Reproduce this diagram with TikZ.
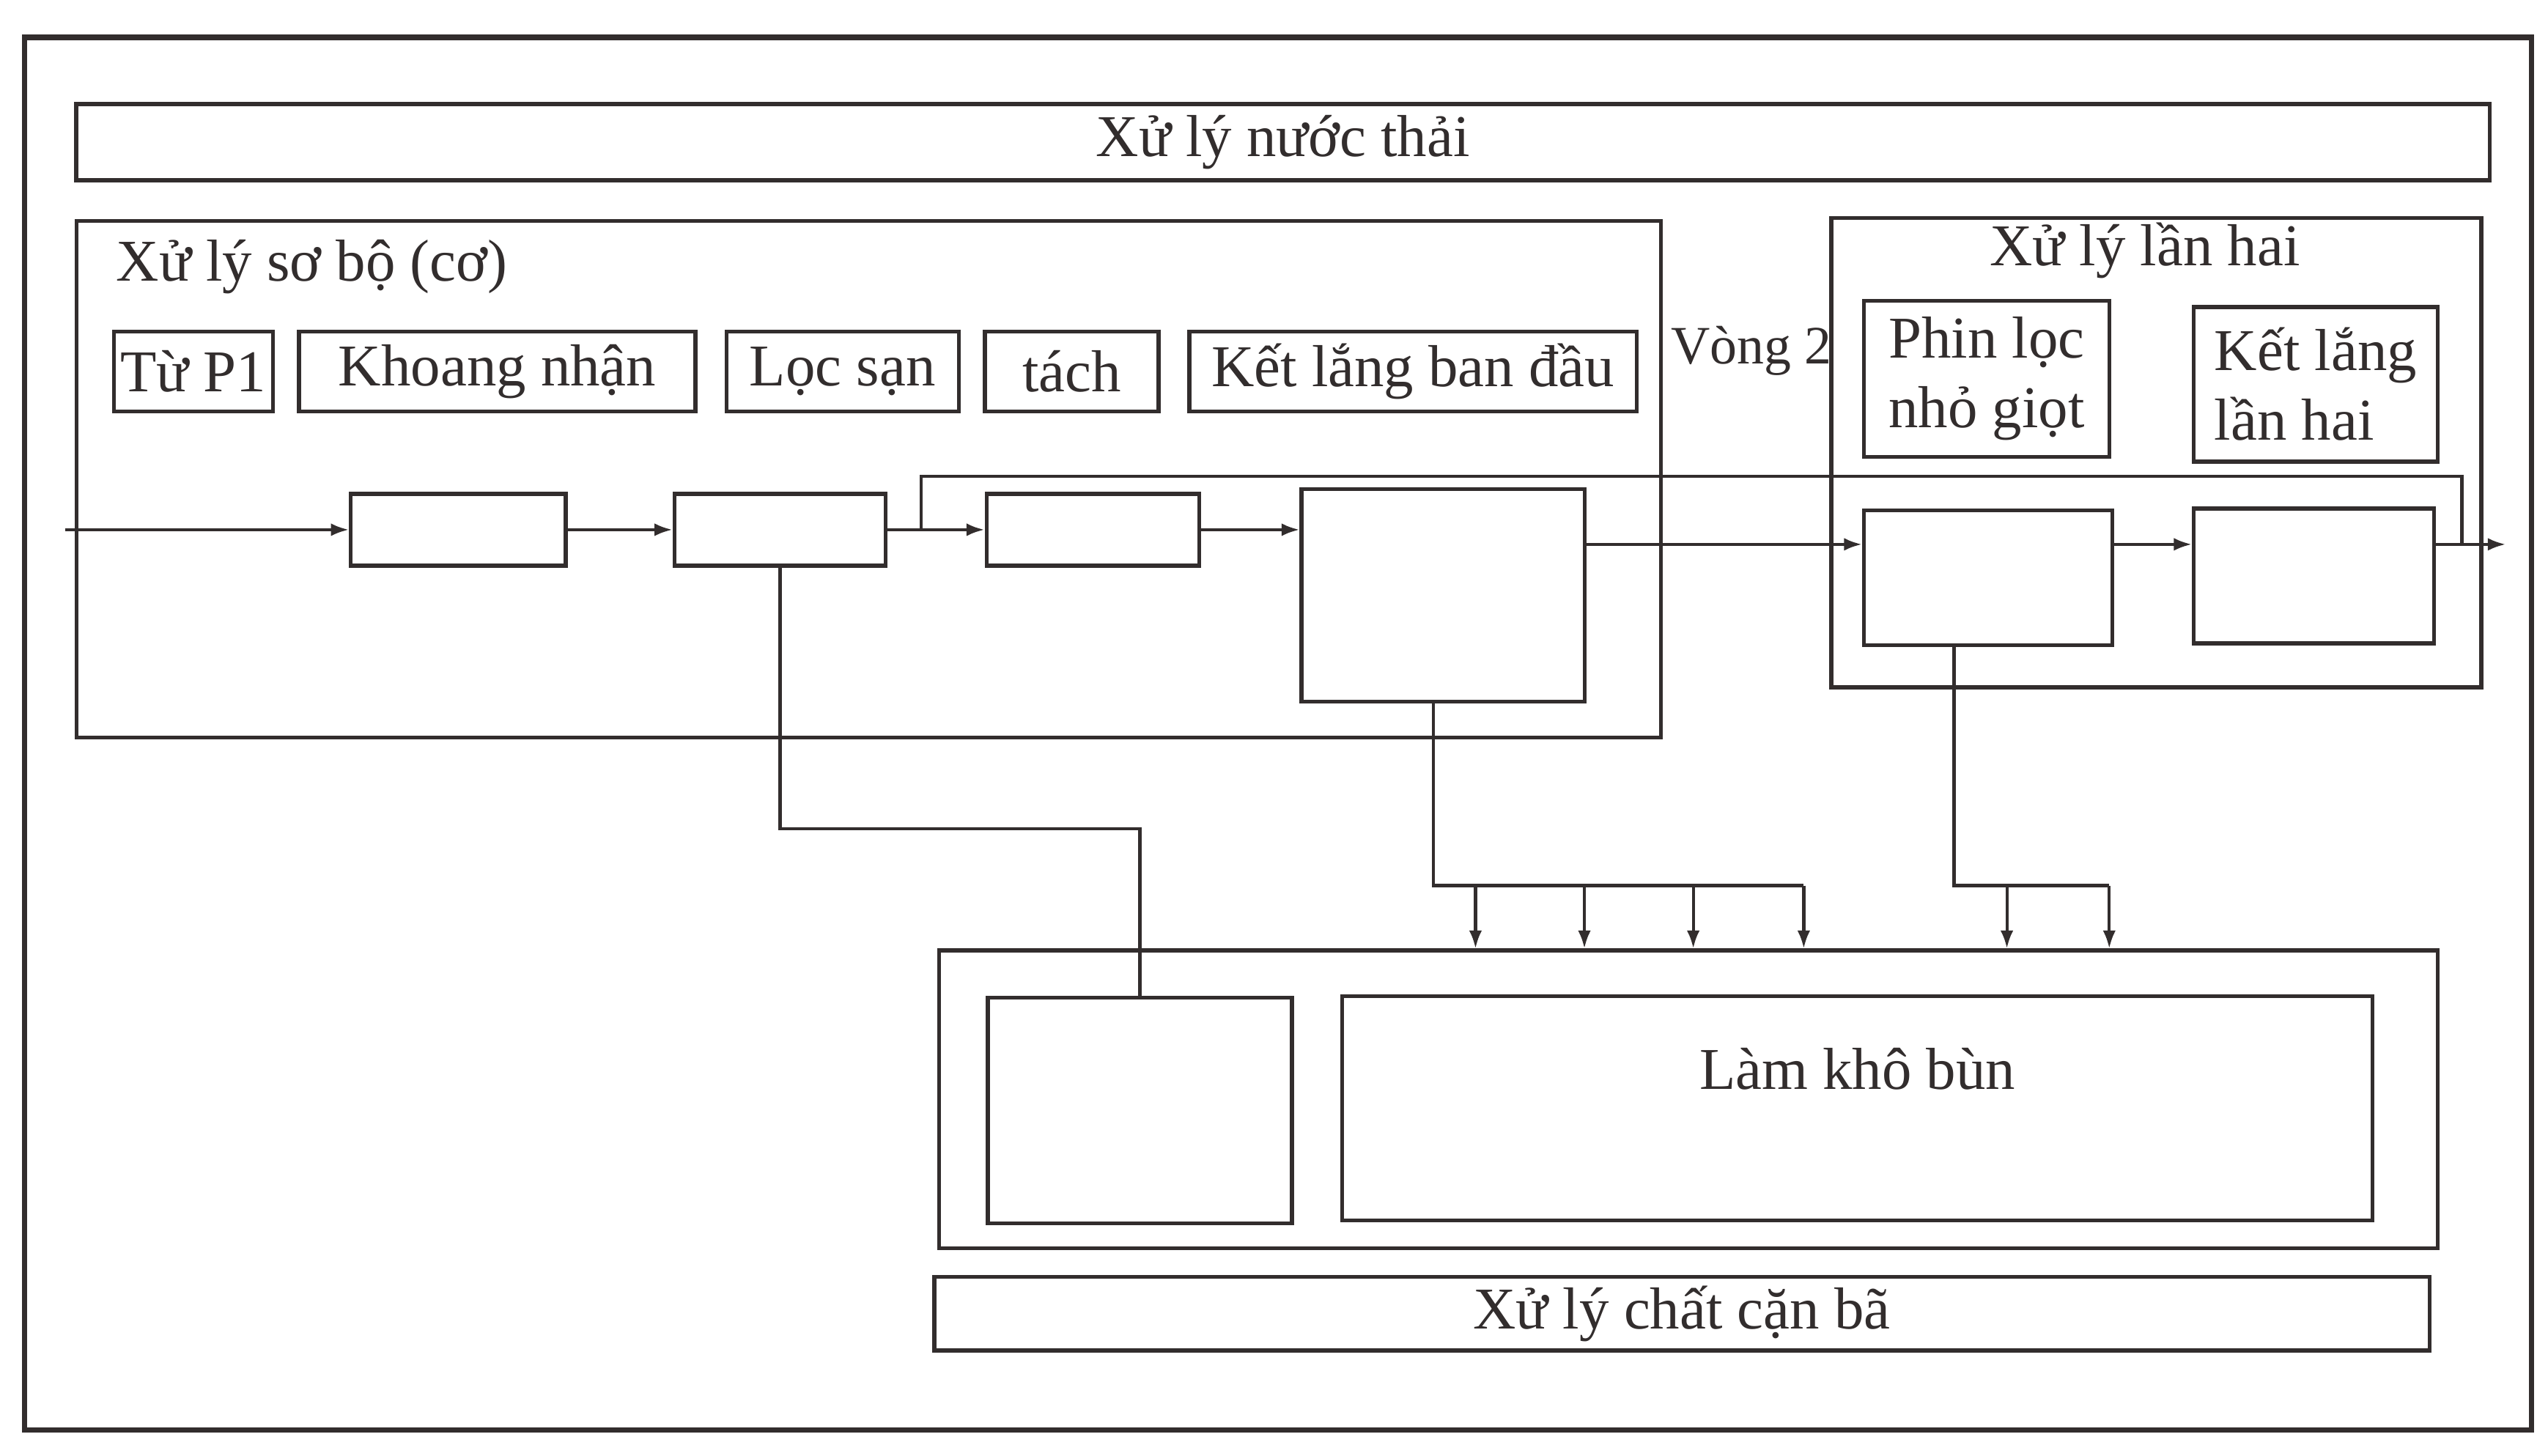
\documentclass[tikz,border=0pt]{standalone}
\usepackage{fontspec}
\setmainfont{Liberation Serif}
\usepackage{tikz}
\usetikzlibrary{arrows.meta,positioning,calc}
\definecolor{ink}{RGB}{50,45,45}

\begin{document}
\begin{tikzpicture}[x=0.022175cm, y=-0.022175cm,
    font=\fontsize{23}{27}\selectfont,
    box/.style={draw=ink, line width=1.5pt, inner sep=0pt, text=ink},
    flow/.style={draw=ink, line width=1.2pt, -{Latex[length=7pt,width=5pt]}},
    pipe/.style={draw=ink, line width=1.2pt}]
  \useasboundingbox (0,0) rectangle (1568,896);

  % Outer frame
  \draw[ink, line width=2pt] (15,23) rectangle (1558,880);
  \node[box, minimum width=32.93cm, minimum height=1.04cm] (nuocthai) at (789.5,87.5) {Xử lý nước thải};

  % Primary stage
  \draw[ink, line width=1.5pt] (47,136) rectangle (1022,454);
  \node[text=ink, anchor=west] (sobo) at (66,164) {Xử lý sơ bộ (cơ)};
  \foreach \n/\x/\w/\t in {tup1/119/2.17/Từ P1, khoang/306/5.41/Khoang nhận,
                           locsan/518.5/3.17/Lọc sạn, tach/659.5/2.37/tách,
                           ketlang/869.5/6.10/Kết lắng ban đầu}{
    \node[box, minimum width=\w cm, minimum height=1.09cm] (\n) at (\x,228.5) {\t};
  }
  \node[text=ink, anchor=west, inner sep=0pt, font=\fontsize{21}{25}\selectfont] (vong) at (1028,216) {Vòng 2};

  % Process boxes
  \node[box, minimum width=2.93cm, minimum height=0.98cm] (b1) at (282,326) {};
  \node[box, minimum width=2.88cm, minimum height=0.98cm] (b2) at (480,326) {};
  \node[box, minimum width=2.90cm, minimum height=0.98cm] (b3) at (672.5,326) {};
  \node[box, minimum width=3.86cm, minimum height=2.90cm] (b4) at (888,366.5) {};

  % Secondary stage
  \draw[ink, line width=1.5pt] (1127,134) rectangle (1527,423);
  \node[text=ink] (lanhai) at (1320,154) {Xử lý lần hai};
  \node[box, align=left, minimum width=3.35cm, minimum height=2.13cm] (phin) at (1222.5,233) {Phin lọc\\nhỏ giọt};
  \node[box, align=left, minimum width=3.33cm, minimum height=2.11cm] (kl2) at (1425,236.5) {Kết lắng\\lần hai};
  \node[box, minimum width=3.39cm, minimum height=1.84cm] (b5) at (1223.5,355.5) {};
  \node[box, minimum width=3.28cm, minimum height=1.84cm] (b6) at (1424,354.5) {};

  % Main flow
  \coordinate (inp) at (40,326);
  \coordinate (rowB) at (0,335);
  \coordinate (outp) at (1542,335);
  \draw[flow] (inp) -- (b1.west);
  \draw[flow] (b1.east) -- (b2.west);
  \draw[flow] (b2.east) -- (b3.west);
  \draw[flow] (b3.east) -- (b4.west |- b3.east);
  \draw[flow] (b4.east |- rowB) -- (b5.west |- rowB);
  \draw[flow] (b5.east |- rowB) -- (b6.west |- rowB);
  \draw[flow] (b6.east |- rowB) -- (outp);

  % Bypass
  \coordinate (split) at (567,326);
  \coordinate (merge) at (1515,335);
  \coordinate (over) at (0,293);
  \draw[pipe] (split) |- (merge |- over) -- (merge);

  % Sludge treatment
  \node[box, minimum width=20.45cm, minimum height=4.06cm] (sludge) at (1039,676.5) {};
  \node[box, minimum width=4.15cm, minimum height=3.08cm] (sm) at (701.5,683.5) {};
  \node[box, minimum width=14.06cm, minimum height=3.06cm] (kho) at (1143,682) {};
  \node[text=ink] (khotxt) at (1143,658) {Làm khô bùn};
  \node[box, minimum width=20.40cm, minimum height=1cm] (canba) at (1035,808.5) {Xử lý chất cặn bã};

  % Sludge lines
  \coordinate (lvlA) at (0,510);
  \draw[pipe] (b2.south) |- (sm.north |- lvlA) -- (sm.north);
  \foreach \x [count=\i] in {908,975,1042,1110}{
    \coordinate (dA\i) at (\x,545);
    \draw[flow] (dA\i) -- (dA\i |- sludge.north);
  }
  \draw[pipe] ($(b4.south)+(-6,0)$) |- (dA4);
  \foreach \x [count=\i] in {1235,1298}{
    \coordinate (dB\i) at (\x,545);
    \draw[flow] (dB\i) -- (dB\i |- sludge.north);
  }
  \draw[pipe] ($(b5.south)+(-21,0)$) |- (dB2);
\end{tikzpicture}
\end{document}
